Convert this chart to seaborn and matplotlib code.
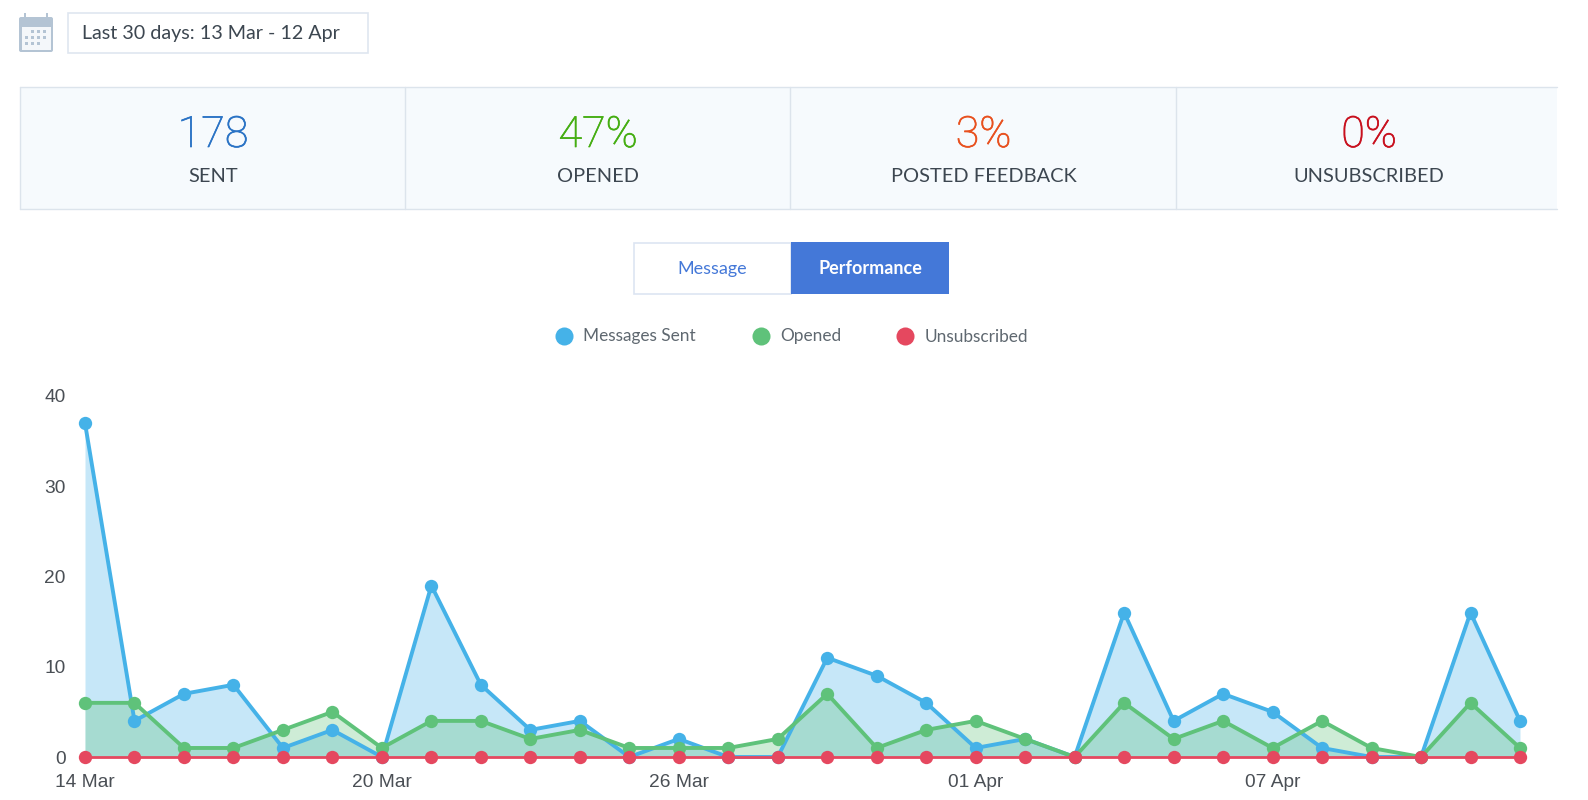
import matplotlib
matplotlib.use("Agg")
import matplotlib.pyplot as plt
from matplotlib.patches import Rectangle, FancyBboxPatch
import matplotlib.patheffects as pe
import seaborn as sns
import pandas as pd

W, H = 1588, 800

days = list(range(30))
messages_sent = [37,4,7,8,1,3,0,19,8,3,4,0,2,0,0,11,9,6,1,2,0,16,4,7,5,1,0,0,16,4]
opened = [6,6,1,1,3,5,1,4,4,2,3,1,1,1,2,7,1,3,4,2,0,6,2,4,1,4,1,0,6,1]
unsubscribed = [0]*30
tick_days = [0,6,12,18,24]
tick_labels = ["14 Mar","20 Mar","26 Mar","01 Apr","07 Apr"]
kpi_values = ["178","47%","3%","0%"]
kpi_labels = ["SENT","OPENED","POSTED FEEDBACK","UNSUBSCRIBED"]
kpi_colors = ["#2A73C5","#45AE12","#E8501E","#C8101E"]
series_names = ["Messages Sent","Opened","Unsubscribed"]
series_colors = ["#45B2E8","#5FC27A","#E5485F"]

sns.set_theme(style="white")
plt.rcParams['font.family'] = ['Lato','DejaVu Sans']

fig = plt.figure(figsize=(W/100, H/100), dpi=100, facecolor="white")

ov = fig.add_axes([0,0,1,1])
ov.set_xlim(0,W); ov.set_ylim(H,0); ov.axis("off")

# calendar icon
cal = "#B4C4D4"
ov.add_patch(FancyBboxPatch((19,17),34,35,boxstyle="round,pad=0,rounding_size=2",fc=cal,ec="none"))
ov.add_patch(Rectangle((21.5,27),29,22.5,fc="#F4F7FA",ec="none"))
for x in (25,47):
    ov.add_patch(Rectangle((x-1,13),2,8,fc=cal,ec="none"))
for r,y in enumerate((31,37,43)):
    for c,x in enumerate((26,32,38,44)):
        if (r==0 and c==0) or (r==2 and c==3):
            continue
        ov.add_patch(Rectangle((x-1,y-1.5),3.4,3.4,fc=cal,ec="none"))

# date box
ov.add_patch(Rectangle((67.5,12.5),300,40,fc="white",ec="#DFE6F0",lw=1.2))
ov.text(82,33,"Last 30 days: 13 Mar - 12 Apr",fontsize=14.2,color="#3C4650",va="center",ha="left")

# KPI band
ov.add_patch(Rectangle((19.5,87),1537,122,fc="#F6FAFD",ec="none"))
ov.plot([19.5,1557],[87,87],color="#DCE4EC",lw=1)
ov.plot([19.5,1557],[209,209],color="#DCE4EC",lw=1)
ov.plot([19.5,19.5],[87,209],color="#DCE4EC",lw=1)
for x in (405,790,1176):
    ov.plot([x,x],[87,209],color="#DCE4EC",lw=1)
for x,v,l,c in zip((213,598,983.5,1369),kpi_values,kpi_labels,kpi_colors):
    ov.text(x,135.5,v,fontsize=31,color=c,ha="center",va="center",family=["Roboto"],fontweight="light",
            path_effects=[pe.withStroke(linewidth=0.5,foreground=c)])
    ov.text(x,176,l,fontsize=14.4,color="#3C4650",ha="center",va="center")

# toggle
ov.add_patch(Rectangle((633.5,242.5),157,51,fc="white",ec="#DDE5F2",lw=1.2))
ov.add_patch(Rectangle((791,242),158,51.5,fc="#4478D8",ec="none"))
ov.text(712,269,"Message",fontsize=13,color="#4478D8",ha="center",va="center")
ov.text(870,269,"Performance",fontsize=13,color="white",ha="center",va="center",fontweight="bold")

# legend
for mx,tx,n,c in zip((564,761,905),(583,780,925),series_names,series_colors):
    ov.plot([mx],[336],"o",ms=13,color=c,mew=0)
    ov.text(tx,336.5,n,fontsize=12.4,color="#5F6870",ha="left",va="center")

# chart: x px 85..1520, y px 757 (0) .. 396 (40)
ax = fig.add_axes([85/W,(H-757)/H,(1520-85)/W,(757-396)/H])
ax.patch.set_alpha(0)
df = pd.DataFrame({"day":days,"Messages Sent":messages_sent,"Opened":opened,"Unsubscribed":unsubscribed})
for n,c in zip(series_names,series_colors):
    if n!="Unsubscribed":
        ax.fill_between(df["day"],0,df[n],color=c,alpha=0.3,lw=0,zorder=1)
for i,(n,c) in enumerate(zip(series_names,series_colors)):
    sns.lineplot(data=df,x="day",y=n,ax=ax,color=c,lw=2.0 if n=="Unsubscribed" else 2.8,marker="o",ms=9.6,mew=0,
                 errorbar=None,clip_on=False,zorder=3+i)
ax.set_xlim(0,29); ax.set_ylim(0,40)
ax.set_xticks(tick_days); ax.set_xticklabels(tick_labels)
ax.set_yticks([0,10,20,30,40])
ax.set_xlabel(""); ax.set_ylabel("")
for s in ax.spines.values():
    s.set_visible(False)
ax.tick_params(axis="both",length=0,labelcolor="#4A4F55",labelsize=13.8)
for t in ax.get_xticklabels()+ax.get_yticklabels():
    t.set_family(["Liberation Sans"])
ax.tick_params(axis="x",pad=12)
ax.tick_params(axis="y",pad=14)
fig.savefig("out.png",dpi=100)
